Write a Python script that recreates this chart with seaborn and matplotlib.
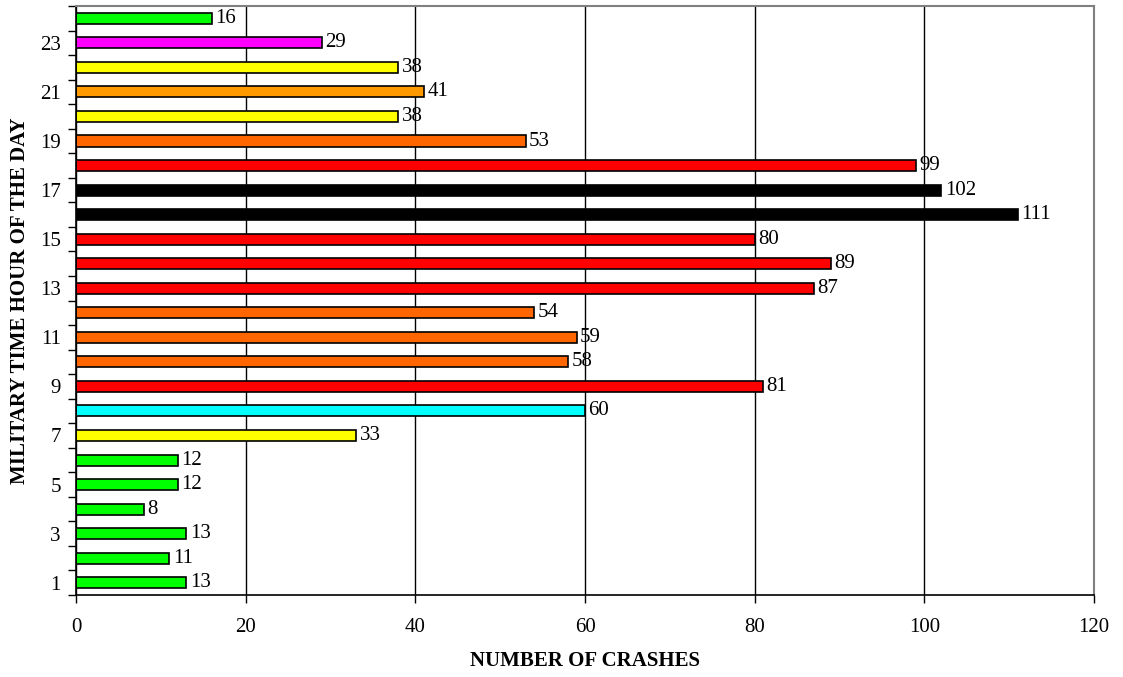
import matplotlib
matplotlib.use("Agg")
import matplotlib.pyplot as plt
import numpy as np
import pandas as pd
import seaborn as sns

# data
hours = list(range(1, 25))
crashes = [13, 11, 13, 8, 12, 12, 33, 60, 81, 58, 59, 54,
           87, 89, 80, 111, 102, 99, 53, 38, 41, 38, 29, 16]
bar_colors = ["#00FF00", "#00FF00", "#00FF00", "#00FF00", "#00FF00", "#00FF00",
              "#FFFF00", "#00FFFF", "#FF0000", "#FF6600", "#FF6600", "#FF6600",
              "#FF0000", "#FF0000", "#FF0000", "#000000", "#000000", "#FF0000",
              "#FF6600", "#FFFF00", "#FF9900", "#FFFF00", "#FF00FF", "#00FF00"]
x_ticks = [0, 20, 40, 60, 80, 100, 120]

df = pd.DataFrame({"hour": [str(h) for h in hours], "crashes": crashes})
order = [str(h) for h in reversed(hours)]
palette = dict(zip(df["hour"], bar_colors))

sns.set_style("white")
plt.rcParams["font.family"] = ["Liberation Serif", "DejaVu Serif"]
for key in ["text.color", "axes.labelcolor", "xtick.color", "ytick.color"]:
    plt.rcParams[key] = "black"

fs = 15

fig = plt.figure(figsize=(11.23, 6.77), dpi=100)
ax = fig.add_axes([0.0677, 0.1211, 0.9065, 0.870])

sns.barplot(data=df, x="crashes", y="hour", hue="hour", order=order,
            palette=palette, saturation=1, orient="h", width=0.45,
            edgecolor="black", linewidth=1.2, legend=False, ax=ax)

# value labels at the bar ends
for h, v in zip(hours, crashes):
    ax.annotate(str(v), (v, 24 - h), xytext=(2.5, 0), textcoords="offset points",
                va="center", ha="left", fontsize=fs)

ax.set_xlim(0, 120)
ax.set_xticks(x_ticks)
ax.set_ylim(23.5, -0.5)

# odd hours labelled, tick marks between the bars
odd = [h for h in hours if h % 2 == 1]
ax.set_yticks([24 - h for h in odd])
ax.set_yticklabels([str(h) for h in odd])
ax.set_yticks(np.arange(-0.5, 24, 1), minor=True)
ax.tick_params(axis="y", which="major", length=0, pad=11, labelsize=fs)
ax.tick_params(axis="y", which="minor", length=5.5, width=1, color="black", direction="out", left=True)
ax.tick_params(axis="x", which="major", length=5.5, width=1, color="black", direction="out",
               bottom=True, pad=11, labelsize=fs)

ax.grid(axis="x", color="black", linewidth=1)
ax.grid(axis="y", visible=False)
ax.set_axisbelow(True)

for side in ["left", "bottom"]:
    ax.spines[side].set_color("black")
    ax.spines[side].set_linewidth(1.2)
for side in ["right", "top"]:
    ax.spines[side].set_color("#808080")
    ax.spines[side].set_linewidth(1.5)

ax.set_xlabel("NUMBER OF CRASHES", fontsize=fs, fontweight="bold", labelpad=10)
ax.set_ylabel("MILITARY TIME HOUR OF THE DAY", fontsize=fs, fontweight="bold", labelpad=7)

fig.savefig("out.png", dpi=100)
